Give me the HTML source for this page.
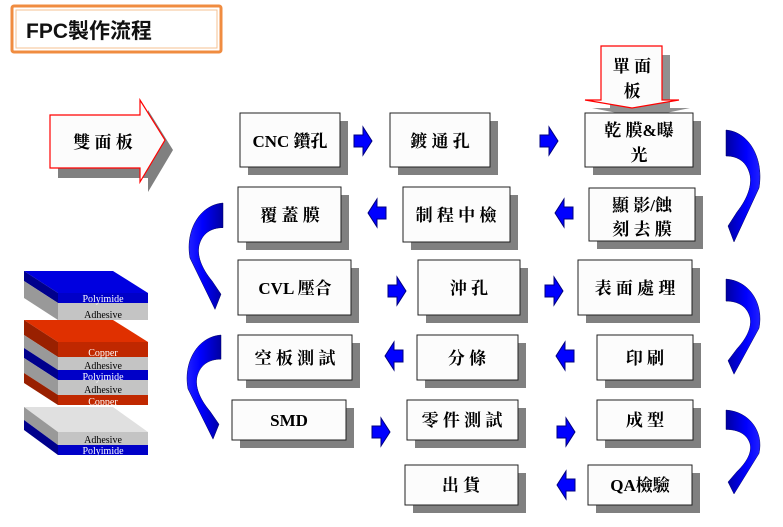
<!DOCTYPE html>
<html><head><meta charset="utf-8"><style>
body{margin:0;background:#fff;}
svg{display:block;}
.t{font-family:"Liberation Serif","Noto Serif CJK SC","Noto Sans CJK TC",serif;font-weight:bold;font-size:17px;fill:#000;text-anchor:middle;}
.l{font-family:"Liberation Serif",serif;font-size:10px;text-anchor:middle;}
</style></head><body>
<svg width="783" height="527" viewBox="0 0 783 527" xmlns="http://www.w3.org/2000/svg">
<defs>
<linearGradient id="bg" x1="0" x2="1" y1="0" y2="0"><stop offset="0" stop-color="#0000a0"/><stop offset="0.6" stop-color="#0000ff"/><stop offset="1" stop-color="#2020ff"/></linearGradient>
<path id="rc" d="M0,0 C24,2 38,30 33,58 L8,112 L2,96 L11,82 C22,68 26,55 24,45 C21,32 12,26 0,26 Z" fill="url(#bg)" stroke="#000060" stroke-width="0.5"/>
<path id="ra" d="M0,-6 L9,-6 L9,-14 L18,0 L9,14 L9,6 L0,6 Z" fill="#0000ff" stroke="#000080" stroke-width="1"/>
</defs>
<!-- title -->
<rect x="12" y="6" width="209" height="46" fill="#fff" stroke="#f08c40" stroke-width="3" rx="2"/>
<rect x="16" y="10" width="201" height="38" fill="none" stroke="#f5c090" stroke-width="1"/>
<text x="26" y="38" style="font-family:'Liberation Sans','Noto Sans CJK TC',sans-serif;font-size:21px;font-weight:bold" fill="#111">FPC製作流程</text>
<!-- 雙面板 arrow -->
<path d="M58,125 L148,125 L148,110 L173,150 L148,192 L148,178 L58,178 Z" fill="#808080"/>
<path d="M50,115 L140,115 L140,100 L165,140 L140,182 L140,168 L50,168 Z" fill="#fcfcfc" stroke="#f00" stroke-width="1.2"/>
<text class="t" x="103" y="148">雙 面 板</text>
<!-- 單面板 arrow -->
<path d="M610,55 L670,55 L670,108 L690,108 L642,118 L592,108 L610,108 Z" fill="#909090"/>
<path d="M601,46 L662,46 L662,100 L679,100 L632,108 L585,100 L601,100 Z" fill="#fcfcfc" stroke="#f00" stroke-width="1.2"/>
<text class="t" x="632" y="72">單 面</text>
<text class="t" x="632" y="97">板</text>
<!-- boxes -->
<g stroke="#222" stroke-width="1">
<g fill="#808080" stroke="none">
<rect x="248" y="121" width="100" height="54"/><rect x="398" y="121" width="100" height="54"/><rect x="593" y="121" width="108" height="54"/>
<rect x="246" y="195" width="103" height="55"/><rect x="411" y="195" width="107" height="55"/><rect x="597" y="196" width="106" height="53"/>
<rect x="246" y="268" width="113" height="55"/><rect x="426" y="268" width="102" height="55"/><rect x="586" y="268" width="114" height="55"/>
<rect x="246" y="343" width="114" height="45"/><rect x="425" y="343" width="101" height="45"/><rect x="605" y="343" width="96" height="45"/>
<rect x="240" y="408" width="114" height="40"/><rect x="415" y="408" width="111" height="40"/><rect x="605" y="408" width="96" height="40"/>
<rect x="413" y="473" width="113" height="40"/><rect x="596" y="473" width="104" height="40"/>
</g>
<g fill="#fcfcfc">
<rect x="240" y="113" width="100" height="54"/><rect x="390" y="113" width="100" height="54"/><rect x="585" y="113" width="108" height="54"/>
<rect x="238" y="187" width="103" height="55"/><rect x="403" y="187" width="107" height="55"/><rect x="589" y="188" width="106" height="53"/>
<rect x="238" y="260" width="113" height="55"/><rect x="418" y="260" width="102" height="55"/><rect x="578" y="260" width="114" height="55"/>
<rect x="238" y="335" width="114" height="45"/><rect x="417" y="335" width="101" height="45"/><rect x="597" y="335" width="96" height="45"/>
<rect x="232" y="400" width="114" height="40"/><rect x="407" y="400" width="111" height="40"/><rect x="597" y="400" width="96" height="40"/>
<rect x="405" y="465" width="113" height="40"/><rect x="588" y="465" width="104" height="40"/>
</g></g>
<g class="t">
<text class="t" x="290" y="147">CNC 鑽孔</text><text class="t" x="440" y="147">鍍 通 孔</text>
<text class="t" x="639" y="136">乾 膜&amp;曝</text><text class="t" x="639" y="161">光</text>
<text class="t" x="642" y="211">顯 影/蝕</text><text class="t" x="642" y="235">刻  去 膜</text>
<text class="t" x="290" y="221">覆 蓋 膜</text><text class="t" x="456" y="221">制 程 中 檢</text>
<text class="t" x="295" y="294">CVL 壓合</text><text class="t" x="469" y="294">沖 孔</text><text class="t" x="635" y="294">表 面 處 理</text>
<text class="t" x="295" y="364">空 板 測 試</text><text class="t" x="467" y="364">分 條</text><text class="t" x="645" y="364">印 刷</text>
<text class="t" x="289" y="426">SMD</text><text class="t" x="462" y="426">零 件 測 試</text><text class="t" x="645" y="426">成 型</text>
<text class="t" x="461" y="491">出 貨</text><text class="t" x="640" y="491">QA檢驗</text>
</g>
<!-- small arrows -->
<use href="#ra" x="354" y="141"/><use href="#ra" x="540" y="141"/>
<use href="#ra" transform="translate(386,213) scale(-1,1)"/><use href="#ra" transform="translate(573,213) scale(-1,1)"/>
<use href="#ra" x="388" y="291"/><use href="#ra" x="545" y="291"/>
<use href="#ra" transform="translate(403,356) scale(-1,1)"/><use href="#ra" transform="translate(574,356) scale(-1,1)"/>
<use href="#ra" x="372" y="432"/><use href="#ra" x="557" y="432"/>
<use href="#ra" transform="translate(575,485) scale(-1,1)"/>
<!-- curved arrows -->
<use href="#rc" transform="translate(726,130)"/>
<use href="#rc" transform="translate(726,279) scale(1,0.85)"/>
<use href="#rc" transform="translate(726,410) scale(1,0.75)"/>
<use href="#rc" transform="translate(223,203) scale(-1,0.95)"/>
<use href="#rc" transform="translate(221,335) scale(-1,0.93)"/>
<!-- layer stacks -->
<g>
<polygon points="24,271 113,271 148,293 58,293" fill="#0000e0"/>
<polygon points="24,271 58,293 58,303 24,281" fill="#00008c"/>
<polygon points="24,281 58,303 58,320 24,298" fill="#999"/>
<rect x="58" y="293" width="90" height="10" fill="#0000c8"/>
<rect x="58" y="303" width="90" height="17" fill="#c4c4c4"/>
<text class="l" x="103" y="302" fill="#fff">Polyimide</text>
<text class="l" x="103" y="318" fill="#000">Adhesive</text>

<polygon points="24,320 113,320 148,342 58,342" fill="#e03000"/>
<polygon points="24,320 58,342 58,357 24,335" fill="#992000"/>
<polygon points="24,335 58,357 58,370 24,348" fill="#999"/>
<polygon points="24,348 58,370 58,380 24,358" fill="#00008c"/>
<polygon points="24,358 58,380 58,395 24,373" fill="#999"/>
<polygon points="24,373 58,395 58,405 24,383" fill="#992000"/>
<rect x="58" y="342" width="90" height="15" fill="#c02800"/>
<rect x="58" y="357" width="90" height="13" fill="#c4c4c4"/>
<rect x="58" y="370" width="90" height="10" fill="#0000c8"/>
<rect x="58" y="380" width="90" height="15" fill="#c4c4c4"/>
<rect x="58" y="395" width="90" height="10" fill="#c02800"/>
<text class="l" x="103" y="356" fill="#fff">Copper</text>
<text class="l" x="103" y="369" fill="#000">Adhesive</text>
<text class="l" x="103" y="380" fill="#fff">Polyimide</text>
<text class="l" x="103" y="393" fill="#000">Adhesive</text>
<text class="l" x="103" y="405" fill="#fff">Copper</text>

<polygon points="24,407 113,407 148,432 58,432" fill="#e0e0e0"/>
<polygon points="24,407 58,432 58,445 24,420" fill="#999"/>
<polygon points="24,420 58,445 58,455 24,430" fill="#00008c"/>
<rect x="58" y="432" width="90" height="13" fill="#c4c4c4"/>
<rect x="58" y="445" width="90" height="10" fill="#0000c8"/>
<text class="l" x="103" y="443" fill="#000">Adhesive</text>
<text class="l" x="103" y="454" fill="#fff">Polyimide</text>
</g>
</svg>
</body></html>
